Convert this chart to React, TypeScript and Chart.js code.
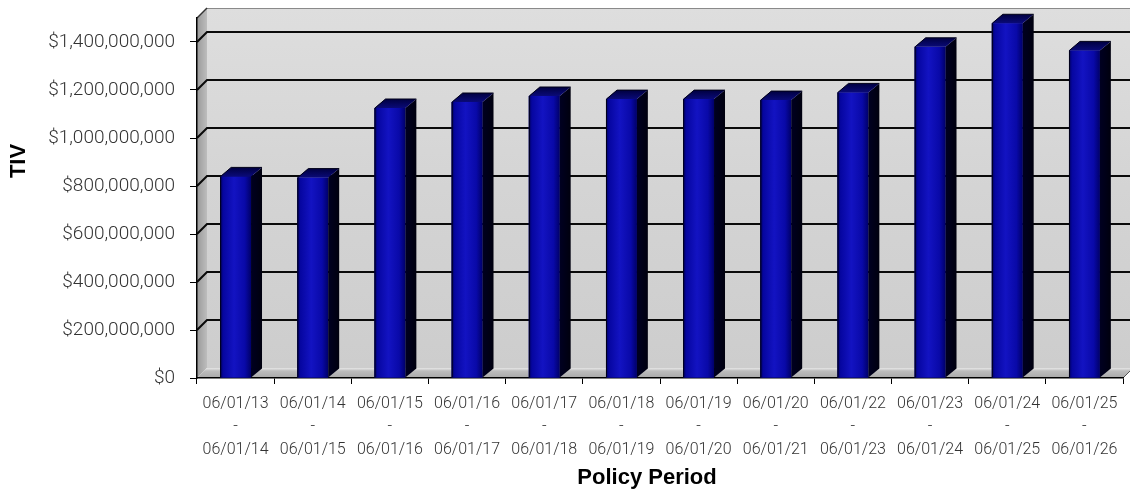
import React, { useEffect, useRef } from 'react';
import { Chart, registerables } from 'chart.js';

Chart.register(...registerables);

const periodStarts = ['06/01/13', '06/01/14', '06/01/15', '06/01/16', '06/01/17', '06/01/18', '06/01/19', '06/01/20', '06/01/22', '06/01/23', '06/01/24', '06/01/25'];
const periodEnds = ['06/01/14', '06/01/15', '06/01/16', '06/01/17', '06/01/18', '06/01/19', '06/01/20', '06/01/21', '06/01/23', '06/01/24', '06/01/25', '06/01/26'];
const tivValues = [840e6, 835e6, 1125e6, 1150e6, 1175e6, 1162e6, 1162e6, 1158e6, 1190e6, 1380e6, 1478e6, 1365e6];
const yTicks = [0, 200e6, 400e6, 600e6, 800e6, 1000e6, 1200e6, 1400e6];
const yMax = 1500e6;
const yTitle = 'TIV';
const xTitle = 'Policy Period';

const WALL_DX = 10;
const WALL_DY = 10;
const BAR_DX = 11;
const BAR_DY = 9;

const threeD = {
  id: 'threeD',
  beforeDraw(chart: any) {
    const { ctx, chartArea } = chart;
    const { left, top, right, bottom } = chartArea;
    const ys = chart.scales.y;
    ctx.save();
    // back wall
    const bw = ctx.createLinearGradient(0, top - WALL_DY, 0, bottom - WALL_DY);
    bw.addColorStop(0, '#dedede');
    bw.addColorStop(0.5, '#d4d4d4');
    bw.addColorStop(1, '#cdcdcd');
    ctx.fillStyle = bw;
    ctx.fillRect(left + WALL_DX, top - WALL_DY, right - left + 40, bottom - top);
    ctx.strokeStyle = '#8a8a8a';
    ctx.lineWidth = 1;
    ctx.beginPath();
    ctx.moveTo(left + WALL_DX, top - WALL_DY + 0.5);
    ctx.lineTo(right + 40, top - WALL_DY + 0.5);
    ctx.stroke();
    // left wall
    const lw = ctx.createLinearGradient(left, 0, left + WALL_DX, 0);
    lw.addColorStop(0, '#9a9a9a');
    lw.addColorStop(1, '#bdbdbd');
    ctx.fillStyle = lw;
    ctx.beginPath();
    ctx.moveTo(left, top);
    ctx.lineTo(left + WALL_DX, top - WALL_DY);
    ctx.lineTo(left + WALL_DX, bottom - WALL_DY);
    ctx.lineTo(left, bottom);
    ctx.closePath();
    ctx.fill();
    // floor
    const fl = ctx.createLinearGradient(0, bottom - WALL_DY, 0, bottom);
    fl.addColorStop(0, '#e6e6e6');
    fl.addColorStop(0.3, '#bdbdbd');
    fl.addColorStop(1, '#a9a9a9');
    ctx.fillStyle = fl;
    ctx.beginPath();
    ctx.moveTo(left, bottom);
    ctx.lineTo(left + WALL_DX, bottom - WALL_DY);
    ctx.lineTo(right + WALL_DX, bottom - WALL_DY);
    ctx.lineTo(right, bottom);
    ctx.closePath();
    ctx.fill();
    ctx.strokeStyle = '#555';
    ctx.beginPath();
    ctx.moveTo(right, bottom);
    ctx.lineTo(right + WALL_DX, bottom - WALL_DY);
    ctx.stroke();
    // top-left edge
    ctx.strokeStyle = '#333';
    ctx.lineWidth = 1.5;
    ctx.beginPath();
    ctx.moveTo(left, top);
    ctx.lineTo(left + WALL_DX, top - WALL_DY);
    ctx.stroke();
    // gridlines on back wall
    ctx.strokeStyle = '#0a0a0a';
    ctx.lineWidth = 2;
    yTicks.forEach((v) => {
      if (v === 0) return;
      const py = ys.getPixelForValue(v);
      ctx.beginPath();
      ctx.moveTo(left, py);
      ctx.lineTo(left + WALL_DX, py - WALL_DY);
      ctx.lineTo(right + 40, py - WALL_DY);
      ctx.stroke();
    });
    ctx.restore();
  },
  afterDatasetsDraw(chart: any) {
    const { ctx } = chart;
    const meta = chart.getDatasetMeta(0);
    ctx.save();
    meta.data.forEach((el: any) => {
      const { x, y, base, width } = el.getProps(['x', 'y', 'base', 'width'], true);
      const l = x - width / 2;
      const r = x + width / 2;
      // front face gradient
      const g = ctx.createLinearGradient(l, 0, r, 0);
      g.addColorStop(0, '#00005a');
      g.addColorStop(0.1, '#0606a0');
      g.addColorStop(0.45, '#1313c2');
      g.addColorStop(0.8, '#0909a8');
      g.addColorStop(1, '#00006a');
      ctx.fillStyle = g;
      ctx.fillRect(l, y, width, base - y);
      // side face
      const sg = ctx.createLinearGradient(r, 0, r + BAR_DX, 0);
      sg.addColorStop(0, '#000022');
      sg.addColorStop(1, '#00000e');
      ctx.fillStyle = sg;
      ctx.beginPath();
      ctx.moveTo(r, y);
      ctx.lineTo(r + BAR_DX, y - BAR_DY);
      ctx.lineTo(r + BAR_DX, base - BAR_DY);
      ctx.lineTo(r, base);
      ctx.closePath();
      ctx.fill();
      // top face
      const tg = ctx.createLinearGradient(0, y - BAR_DY, 0, y);
      tg.addColorStop(0, '#000040');
      tg.addColorStop(1, '#0a0a78');
      ctx.fillStyle = tg;
      ctx.beginPath();
      ctx.moveTo(l, y);
      ctx.lineTo(l + BAR_DX, y - BAR_DY);
      ctx.lineTo(r + BAR_DX, y - BAR_DY);
      ctx.lineTo(r, y);
      ctx.closePath();
      ctx.fill();
      // outline
      ctx.strokeStyle = '#000018';
      ctx.lineWidth = 1;
      ctx.beginPath();
      ctx.moveTo(l + 0.5, base);
      ctx.lineTo(l + 0.5, y);
      ctx.lineTo(l + BAR_DX, y - BAR_DY);
      ctx.lineTo(r + BAR_DX, y - BAR_DY);
      ctx.stroke();
    });
    ctx.restore();
  },
  afterDraw(chart: any) {
    const { ctx } = chart;
    ctx.save();
    ctx.fillStyle = '#000';
    ctx.font = 'bold 22px "Liberation Sans", Arial, sans-serif';
    ctx.textAlign = 'center';
    ctx.textBaseline = 'middle';
    ctx.fillText(xTitle, 647, 478);
    ctx.translate(19, 161);
    ctx.rotate(-Math.PI / 2);
    ctx.fillText(yTitle, 0, 0);
    ctx.restore();
  },
};

export default function App() {
  const ref = useRef<HTMLCanvasElement | null>(null);
  useEffect(() => {
    document.body.style.margin = '0';
    if (!ref.current) return;
    const chart = new Chart(ref.current, {
      type: 'bar',
      data: {
        labels: periodStarts.map((s, i) => [s, '-', periodEnds[i]]),
        datasets: [
          {
            label: yTitle,
            data: tivValues,
            backgroundColor: '#0a0ab0',
            borderWidth: 0,
            barPercentage: 0.4,
            categoryPercentage: 1,
          },
        ],
      },
      options: {
        responsive: false,
        animation: false,
        layout: { padding: { left: 0, top: 18, right: 7, bottom: 0 } },
        plugins: { legend: { display: false }, tooltip: { enabled: false } },
        scales: {
          x: {
            offset: true,
            grid: { display: true, drawOnChartArea: false, drawTicks: true, tickLength: 6, color: '#000', offset: true },
            border: { display: true, color: '#000', width: 1.5 },
            ticks: {
              autoSkip: false,
              maxRotation: 0,
              minRotation: 0,
              padding: 8,
              color: '#333333',
              font: { family: 'Roboto', weight: 300 as any, size: 16, lineHeight: 1.45 },
            },
            afterFit(scale: any) {
              scale.height = 117;
              scale.paddingLeft = 0;
              scale.paddingRight = 0;
            },
          },
          y: {
            min: 0,
            max: yMax,
            grid: { display: true, drawOnChartArea: false, drawTicks: true, tickLength: 7, color: '#000' },
            border: { display: true, color: '#000', width: 1.5 },
            afterBuildTicks(scale: any) {
              scale.ticks = yTicks.map((v) => ({ value: v }));
            },
            ticks: {
              padding: 15,
              color: '#333333',
              font: { family: 'Roboto', weight: 300 as any, size: 19 },
              callback: (v: any) => '$' + Number(v).toLocaleString('en-US'),
            },
            afterFit(scale: any) {
              scale.width = 197;
              scale.paddingTop = 0;
              scale.paddingBottom = 0;
            },
          },
        },
      },
      plugins: [threeD],
    });
    return () => chart.destroy();
  }, []);
  return <canvas ref={ref} width={1130} height={495} style={{ display: 'block' }} />;
}
